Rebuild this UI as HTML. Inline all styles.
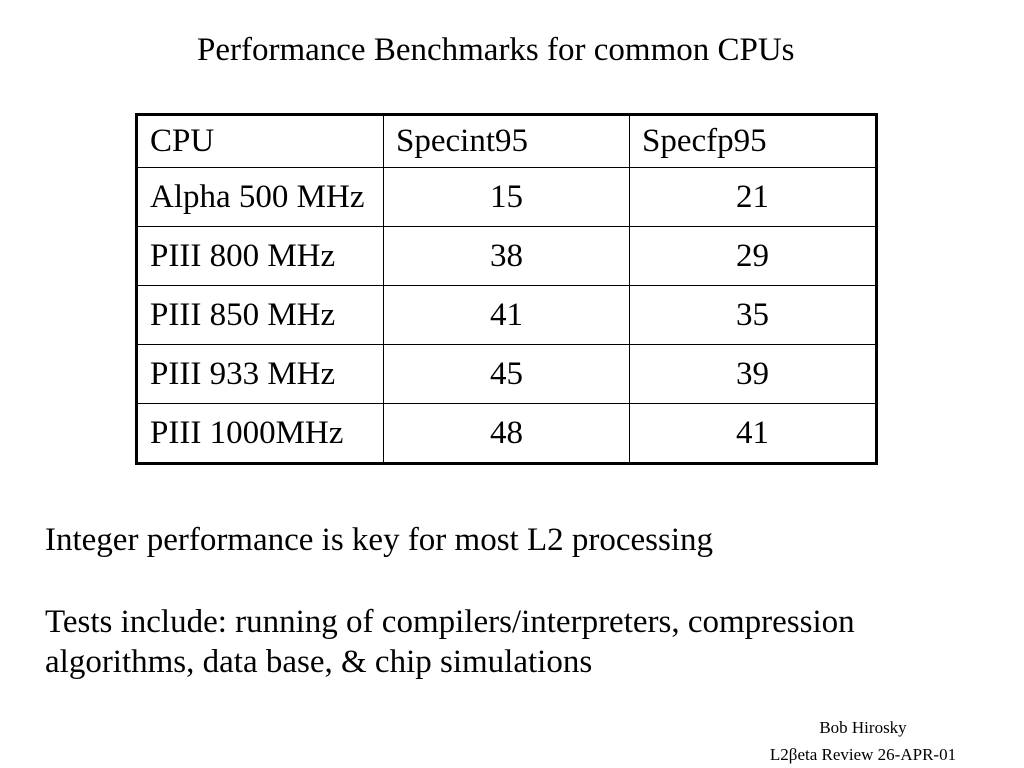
<!DOCTYPE html>
<html><head><meta charset="utf-8"><style>
body{margin:0;width:1024px;height:768px;background:#fff;position:relative;overflow:hidden;font-family:"Liberation Serif",serif;color:#000}
.t{position:absolute;font-size:33px;line-height:33px;white-space:nowrap}
table{position:absolute;left:135px;top:113px;border-collapse:collapse;border:3px solid #000;font-size:33px}
td{border:1.5px solid #000;padding:0 0 0 12px;height:58px;vertical-align:middle;line-height:33px}
td.n{text-align:center;padding:0}
.f{position:absolute;left:733px;width:260px;text-align:center;font-size:17px;line-height:17px}
</style></head><body>
<div class="t" style="left:197px;top:34px">Performance Benchmarks for common CPUs</div>
<table>
<tr style="height:53px"><td style="width:233px;height:51px">CPU</td><td style="width:233px;height:51px">Specint95</td><td style="width:233px;height:51px">Specfp95</td></tr>
<tr><td>Alpha 500 MHz</td><td class="n">15</td><td class="n">21</td></tr>
<tr><td>PIII 800 MHz</td><td class="n">38</td><td class="n">29</td></tr>
<tr><td>PIII 850 MHz</td><td class="n">41</td><td class="n">35</td></tr>
<tr><td>PIII 933 MHz</td><td class="n">45</td><td class="n">39</td></tr>
<tr><td>PIII 1000MHz</td><td class="n">48</td><td class="n">41</td></tr>
</table>
<div class="t" style="left:45px;top:524px">Integer performance is key for most L2 processing</div>
<div class="t" style="left:45px;top:606px">Tests include: running of compilers/interpreters, compression</div>
<div class="t" style="left:45px;top:646px">algorithms, data base, &amp; chip simulations</div>
<div class="f" style="top:719px">Bob Hirosky</div>
<div class="f" style="top:746px">L2βeta Review 26-APR-01</div>
</body></html>
